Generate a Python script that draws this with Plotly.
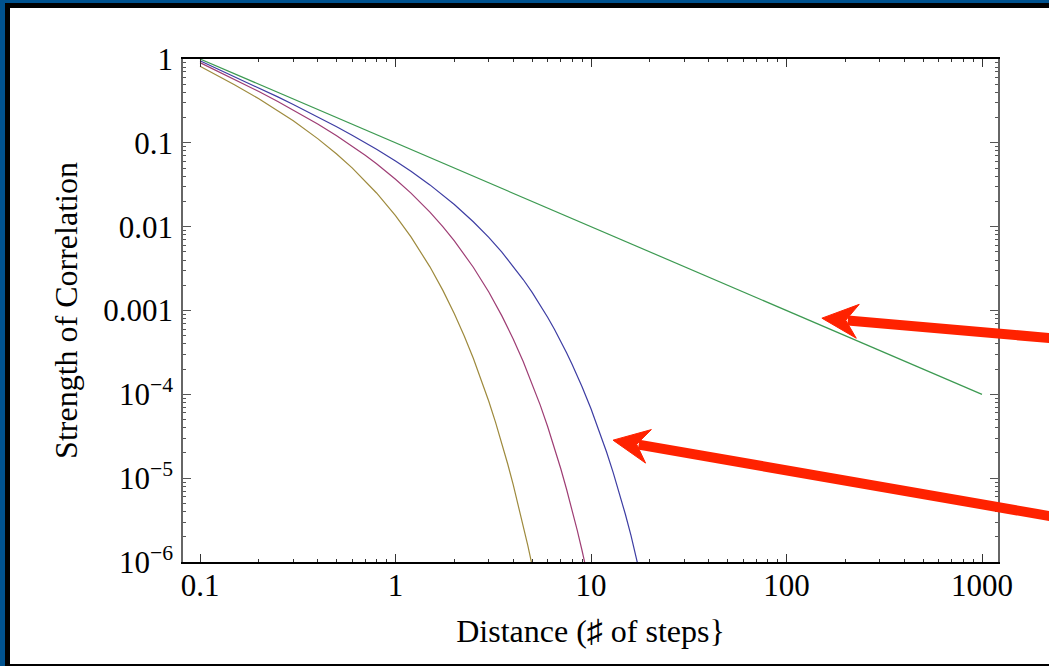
import math
import plotly.graph_objects as go

# ---- data ----
green_x = [0.1, 1, 10, 100, 1000]
green_y = [1.0, 0.1, 0.01, 0.001, 0.0001]

blue_x = [0.1, 0.15, 0.2, 0.25, 0.3, 0.4, 0.5, 0.6, 0.7, 0.8, 1, 1.2, 1.5, 1.75, 2, 2.5, 3, 3.5,
          4, 4.5, 5, 5.5, 6, 6.5, 7, 7.5, 8, 8.5, 9, 10, 11, 12, 13, 14, 15, 16, 17, 18, 20]
blue_y = [0.951, 0.6185, 0.4524, 0.3530, 0.2869, 0.2047, 0.1558, 0.1235, 0.1007, 0.08379,
          0.06065, 0.04573, 0.03149, 0.02382, 0.01839, 0.01146, 0.007437, 0.004965,
          0.003383, 0.002342, 0.001642, 0.0011624, 0.0008298, 0.0005965, 0.0004314,
          0.0003136, 0.0002289, 0.0001678, 0.0001234, 6.738e-5, 3.715e-5, 2.066e-5,
          1.1565e-5, 6.513e-6, 3.687e-6, 2.097e-6, 1.197e-6, 6.856e-7, 2.27e-7]

magenta_x = [0.1, 0.15, 0.2, 0.25, 0.3, 0.4, 0.5, 0.6, 0.7, 0.8, 1, 1.2, 1.5, 1.75, 2, 2.5, 3,
             3.5, 4, 4.5, 5, 5.5, 6, 6.5, 7, 7.5, 8, 8.5, 9, 9.5, 10]
magenta_y = [0.9048, 0.5738, 0.4094, 0.3115, 0.2469, 0.1676, 0.1213, 0.09147, 0.07094, 0.05617,
             0.03679, 0.0251, 0.01488, 0.00993, 0.006767, 0.003283, 0.00166, 0.0008628,
             0.000458, 0.0002469, 0.0001348, 7.431e-5, 4.131e-5, 2.313e-5, 1.303e-5,
             7.374e-6, 4.193e-6, 2.394e-6, 1.371e-6, 7.879e-7, 4.54e-7]

olive_x = [0.1, 0.15, 0.2, 0.25, 0.3, 0.4, 0.5, 0.6, 0.7, 0.8, 1, 1.2, 1.5, 1.75, 2, 2.25, 2.5,
           2.75, 3, 3.25, 3.5, 3.75, 4, 4.25, 4.5, 4.75, 5, 5.25, 5.5]
olive_y = [0.8187, 0.4939, 0.3352, 0.2426, 0.1829, 0.1123, 0.07358, 0.0502, 0.03523, 0.02524,
           0.01353, 0.00756, 0.003319, 0.001726, 0.0009158, 0.0004937, 0.0002695, 0.0001486,
           8.263e-5, 4.626e-5, 2.605e-5, 1.475e-5, 8.387e-6, 4.787e-6, 2.742e-6, 1.576e-6,
           9.08e-7, 5.245e-7, 3.04e-7]

x_tickvals = [0.1, 1, 10, 100, 1000]
x_ticktext = ["0.1", "1", "10", "100", "1000"]
y_tickvals = [1, 0.1, 0.01, 0.001, 1e-4, 1e-5, 1e-6]
y_ticktext = ["1", "0.1", "0.01", "0.001", "10<sup>\u22124</sup>", "10<sup>\u22125</sup>", "10<sup>\u22126</sup>"]

x_minor = [m * 10 ** d for d in range(-1, 3) for m in range(2, 10)]
y_minor = [m * 10 ** d for d in range(-6, 0) for m in range(2, 10)]

# red pointer arrows: tip in data coords, tail height (pixels) where it leaves the right edge
arrow_tips = [(151.7, 8.1e-4), (12.96, 2.84e-5)]
arrow_tail_y = [338, 516]

W, H = 1049, 666
ML, MR, MT, MB = 183, 51, 59, 104
PW, PH = W - ML - MR, H - MT - MB

FONT = "Liberation Serif"
BLUE_FRAME = "#00528f"
RED = "#ff2200"

xr = [-1 - 17 / 195.5, 3 + 16 / 195.5]
yr = [-6, 0]

fig = go.Figure()
series = [
    (blue_x, blue_y, "#3d3da3"),
    (magenta_x, magenta_y, "#9e3d74"),
    (olive_x, olive_y, "#9e8a3d"),
    (green_x, green_y, "#3d9a52"),
]
for xs, ys, col in series:
    fig.add_trace(go.Scatter(x=xs, y=ys, mode="lines", line=dict(color=col, width=1.2),
                             showlegend=False, hoverinfo="skip"))

# invisible trace so the overlay axes (minor ticks) get drawn
fig.add_trace(go.Scatter(x=[1], y=[0.01], xaxis="x2", yaxis="y2", mode="markers",
                         marker=dict(opacity=0), showlegend=False, hoverinfo="skip"))


def px2paper_x(px):
    return (px - ML) / PW


def px2paper_y(py):
    return (H - MB - py) / PH


def data2px(x, y):
    px = ML + (math.log10(x) - xr[0]) / (xr[1] - xr[0]) * PW
    py = MT + (yr[1] - math.log10(y)) / (yr[1] - yr[0]) * PH
    return px, py


shapes = []


def rect(x0, y0, x1, y1, col):
    shapes.append(dict(type="rect", xref="paper", yref="paper",
                       x0=px2paper_x(x0), x1=px2paper_x(x1),
                       y0=px2paper_y(y0), y1=px2paper_y(y1),
                       fillcolor=col, line=dict(width=0), layer="above"))


rect(0, 0, 5, H, BLUE_FRAME)
rect(0, 0, W, 3, BLUE_FRAME)
rect(5, 3, 10, H, "black")
rect(5, 3, W, 8, "black")
rect(5, 664, W, H, "black")

# arrows (shaft + swept head)
for (tx, ty), tail_y in zip(arrow_tips, arrow_tail_y):
    tpx, tpy = data2px(tx, ty)
    dx, dy = W - tpx, tail_y - tpy
    L = math.hypot(dx, dy)
    ux, uy = dx / L, dy / L
    nx, ny = -uy, ux
    tail = (tpx + ux * (L + 60), tpy + uy * (L + 60))
    notch = (tpx + ux * 24, tpy + uy * 24)
    w1 = (tpx + ux * 36 + nx * 17, tpy + uy * 36 + ny * 17)
    w2 = (tpx + ux * 36 - nx * 17, tpy + uy * 36 - ny * 17)
    shapes.append(dict(type="line", xref="paper", yref="paper",
                       x0=px2paper_x(notch[0] + ux * 2), y0=px2paper_y(notch[1] + uy * 2),
                       x1=px2paper_x(tail[0]), y1=px2paper_y(tail[1]),
                       line=dict(color=RED, width=10), layer="above"))
    pts = [(tpx, tpy), w1, notch, w2]
    path = "M " + " L ".join(f"{px2paper_x(a):.5f},{px2paper_y(b):.5f}" for a, b in pts) + " Z"
    shapes.append(dict(type="path", xref="paper", yref="paper", path=path,
                       fillcolor=RED, line=dict(color=RED, width=1), layer="above"))

fig.update_layout(
    width=W, height=H,
    margin=dict(l=ML, r=MR, t=MT, b=MB),
    paper_bgcolor="white", plot_bgcolor="white",
    font=dict(family=FONT, size=31, color="black"),
    shapes=shapes,
    xaxis=dict(type="log", range=xr, tickvals=x_tickvals, ticktext=x_ticktext,
               ticks="inside", ticklen=8, tickwidth=1, tickcolor="#333",
               ticklabelstandoff=-5,
               showline=True, linecolor="black", linewidth=1.5, mirror="ticks",
               showgrid=False, zeroline=False,
               title=dict(text="Distance (\u266f of steps}", font=dict(size=32), standoff=18)),
    yaxis=dict(type="log", range=yr, tickvals=y_tickvals, ticktext=y_ticktext,
               ticks="inside", ticklen=8, tickwidth=1, tickcolor="#555",
               ticklabelstandoff=2,
               showline=True, linecolor="#666", linewidth=1.5, mirror="ticks",
               showgrid=False, zeroline=False,
               title=dict(text="Strength of Correlation", font=dict(size=32), standoff=16)),
    xaxis2=dict(type="log", range=xr, overlaying="x", anchor="y", side="bottom",
                tickvals=x_minor, showticklabels=False,
                ticks="inside", ticklen=3, tickwidth=1, tickcolor="#333",
                showline=False, mirror="ticks", showgrid=False, zeroline=False),
    yaxis2=dict(type="log", range=yr, overlaying="y", anchor="x", side="left",
                tickvals=y_minor, showticklabels=False,
                ticks="inside", ticklen=3, tickwidth=1, tickcolor="#555",
                showline=False, mirror="ticks", showgrid=False, zeroline=False),
)

fig.write_html("out.html", config={"displayModeBar": False},
               post_script="document.body.style.margin='0';document.body.style.overflow='hidden';")
